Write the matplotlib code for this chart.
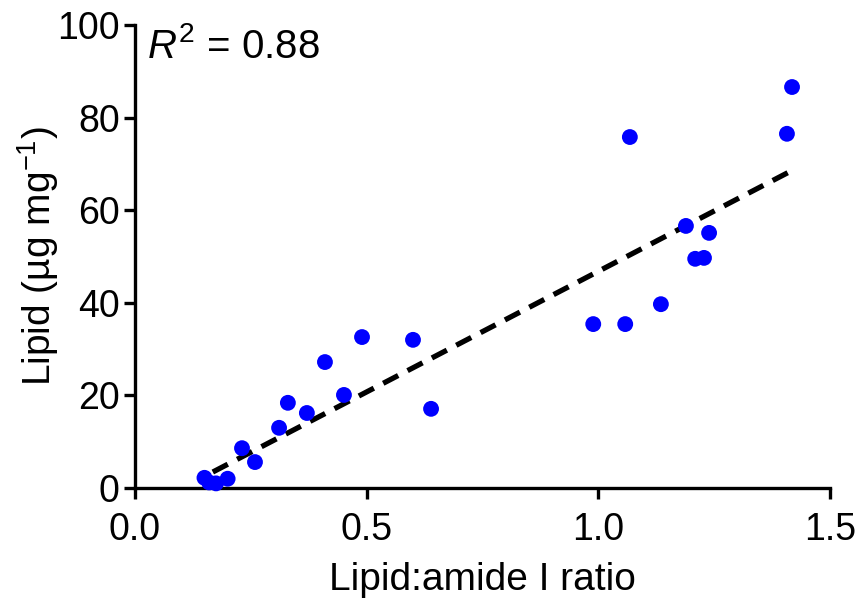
import numpy as np
import matplotlib.pyplot as plt

plt.rcParams['font.family'] = ['Liberation Sans', 'DejaVu Sans']
plt.rcParams['mathtext.fontset'] = 'custom'
plt.rcParams['mathtext.rm'] = 'Liberation Sans'
plt.rcParams['mathtext.it'] = 'Liberation Sans:italic'

# lipid:amide I ratio vs lipid content
ratio = [0.15, 0.16, 0.175, 0.20, 0.231, 0.259, 0.311, 0.330, 0.371, 0.41,
         0.451, 0.49, 0.60, 0.639, 0.989, 1.058, 1.068, 1.135, 1.189, 1.209,
         1.228, 1.239, 1.407, 1.418]
lipid = [2.2, 1.2, 1.0, 2.0, 8.6, 5.6, 13.0, 18.4, 16.2, 27.2,
         20.1, 32.6, 32.0, 17.1, 35.4, 35.4, 75.8, 39.7, 56.6, 49.5,
         49.7, 55.1, 76.5, 86.6]

# linear fit
fit_slope = 52.1
fit_intercept = -5.3
fit_range = [0.168, 1.42]
r2_text = "0.88"

fig = plt.figure(figsize=(8.58, 5.99), dpi=100)
ax = fig.add_axes([0.1573, 0.1853, 0.8101, 0.7730])

fx = np.array(fit_range)
ax.plot(fx, fit_slope * fx + fit_intercept, color='black', lw=3.8,
        linestyle=(0, (3.2, 2.0)), zorder=2)
ax.scatter(ratio, lipid, s=130, color='#0000ff', edgecolors='none', zorder=3,
           clip_on=False)

ax.set_xlim(0, 1.5)
ax.set_ylim(0, 100)
ax.set_xticks([0.0, 0.5, 1.0, 1.5])
ax.set_xticklabels(['0.0', '0.5', '1.0', '1.5'])
ax.set_yticks([0, 20, 40, 60, 80, 100])

for side in ['top', 'right']:
    ax.spines[side].set_visible(False)
for side in ['left', 'bottom']:
    ax.spines[side].set_linewidth(2.4)
ax.tick_params(width=2.4, length=8, labelsize=27)
ax.tick_params(axis='x', pad=9)
ax.tick_params(axis='y', pad=3)

ax.set_xlabel('Lipid:amide I ratio', fontsize=28, labelpad=10)
ax.set_ylabel('Lipid (µg mg$^{-1}$)', fontsize=28, labelpad=-3)

ax.text(0.018, 0.995, r'$\mathit{R}^{2}$ = ' + r2_text, transform=ax.transAxes,
        fontsize=29, va='top', ha='left')

fig.savefig('out.png', dpi=100)
